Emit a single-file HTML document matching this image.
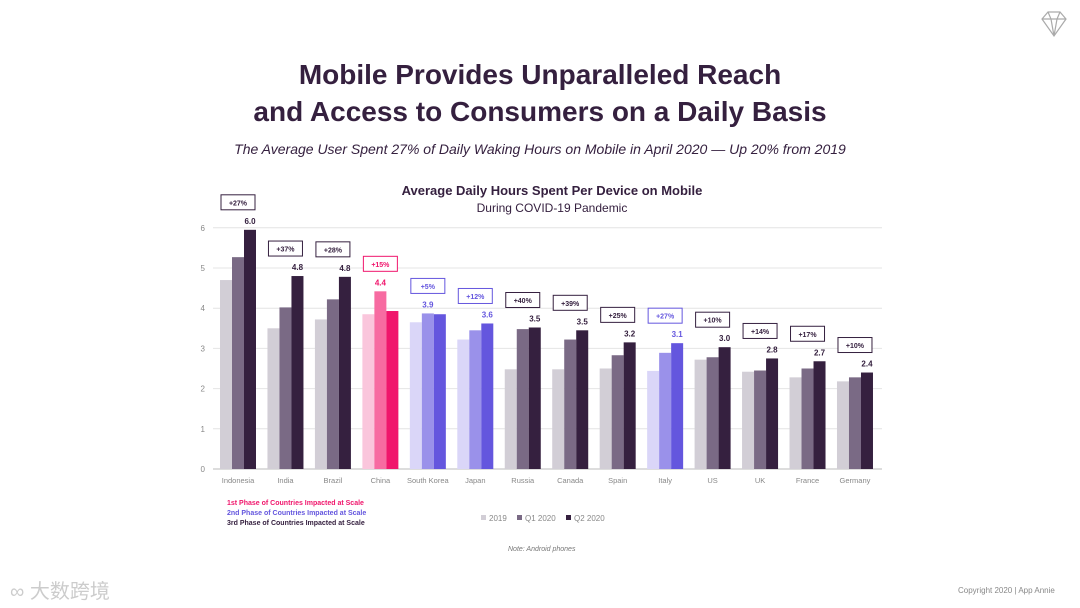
<!DOCTYPE html>
<html><head><meta charset="utf-8"><style>
body{margin:0;width:1080px;height:608px;background:#fff;font-family:"Liberation Sans",sans-serif;overflow:hidden;position:relative}
.t{position:absolute;left:0;width:1080px;text-align:center}
</style></head><body>
<div class="t" style="top:56px;font-size:28px;font-weight:bold;color:#35203f;line-height:37px">Mobile Provides Unparalleled Reach<br>and Access to Consumers on a Daily Basis</div>
<div class="t" style="top:141px;font-size:14px;font-style:italic;color:#35203f">The Average User Spent 27% of Daily Waking Hours on Mobile in April 2020 — Up 20% from 2019</div>
<svg style="position:absolute;left:1038px;top:10px" width="32" height="28" viewBox="0 0 32 28"><path d="M4 9 L10 2 H22 L28 9 L16 26 Z M4 9 H28 M10 2 L13 9 L16 26 L19 9 L22 2" fill="none" stroke="#aaa" stroke-width="1.2"/></svg>
<svg id="c" width="1080" height="608" style="position:absolute;left:0;top:0"></svg>
<div style="position:absolute;left:508px;top:546px;font-size:7px;font-style:italic;color:#777">Note: Android phones</div>
<div style="position:absolute;left:10px;top:575px;font-size:20px;color:#ccc;font-family:'Liberation Sans','Noto Sans CJK SC',sans-serif">∞ 大数跨境</div>
<div style="position:absolute;left:958px;top:586px;font-size:8px;color:#888">Copyright 2020 | App Annie</div>
<script>
const categories=["Indonesia","India","Brazil","China","South Korea","Japan","Russia","Canada","Spain","Italy","US","UK","France","Germany"];
const v2019=[4.7,3.5,3.72,3.85,3.65,3.22,2.48,2.48,2.5,2.44,2.72,2.42,2.28,2.18];
const vQ1=[5.27,4.02,4.22,4.42,3.87,3.45,3.48,3.22,2.83,2.89,2.78,2.45,2.5,2.28];
const vQ2=[5.95,4.8,4.78,3.93,3.85,3.62,3.52,3.45,3.15,3.13,3.03,2.75,2.68,2.4];
const printed=["6.0","4.8","4.8","4.4","3.9","3.6","3.5","3.5","3.2","3.1","3.0","2.8","2.7","2.4"];
const growth=["+27%","+37%","+28%","+15%","+5%","+12%","+40%","+39%","+25%","+27%","+10%","+14%","+17%","+10%"];
const phase=[3,3,3,1,2,2,3,3,3,2,3,3,3,3];
const yTicks=[0,1,2,3,4,5,6];
const pal={1:["#fac6dc","#f76ba1","#f0166c"],2:["#dad6f8","#9a91ea","#6456de"],3:["#d2ced6","#7a6a85","#35203f"]};
const lab={1:"#f0166c",2:"#6456de",3:"#35203f"};
const svg=document.getElementById('c');const NS="http://www.w3.org/2000/svg";
const y=v=>469-v*40.2, x=i=>238+i*47.46;
function mk(t,a,txt){const e=document.createElementNS(NS,t);for(const k in a)e.setAttribute(k,a[k]);if(txt!=null)e.textContent=txt;svg.appendChild(e);return e;}
let e;
e=mk('text',{x:552,y:195,'text-anchor':'middle','font-size':13,'font-weight':'bold',fill:'#35203f'},'Average Daily Hours Spent Per Device on Mobile');


e=mk('text',{x:552,y:212,'text-anchor':'middle','font-size':12,fill:'#35203f'},'During COVID-19 Pandemic');


yTicks.forEach(t=>{
 e=mk('line',{x1:213,x2:882,y1:y(t),y2:y(t),stroke:t?'#e4e4e4':'#bbb','stroke-width':1});
 
 
 e=mk('text',{x:205,y:y(t)+3,'text-anchor':'end','font-size':8,fill:'#888'},t);
 
 
});
categories.forEach((c,i)=>{
 const cx=x(i),p=pal[phase[i]],vals=[v2019[i],vQ1[i],vQ2[i]];
 vals.forEach((v,j)=>{
  e=mk('rect',{x:cx-18+j*12,y:y(v),width:12,height:v*40.2,fill:p[j]});
  
  
 });
 let mj=vals.indexOf(Math.max(...vals));const top=y(vals[mj]);
 e=mk('text',{x:cx-12+mj*12,y:top-6,'text-anchor':'middle','font-size':8,'font-weight':'bold',fill:lab[phase[i]]},printed[i]);
 
 
 e=mk('rect',{x:cx-17,y:top-35,width:34,height:15,fill:'#fff',stroke:lab[phase[i]],'stroke-width':1});
 
 
 e=mk('text',{x:cx,y:top-24.5,'text-anchor':'middle','font-size':7,'font-weight':'bold',fill:lab[phase[i]]},growth[i]);
 
 
 e=mk('text',{x:cx,y:483,'text-anchor':'middle','font-size':7.5,fill:'#888'},c);
 
 
});
[["1st Phase of Countries Impacted at Scale",'#f0166c',505],["2nd Phase of Countries Impacted at Scale",'#6456de',515],["3rd Phase of Countries Impacted at Scale",'#35203f',525]].forEach(l=>{
 e=mk('text',{x:227,y:l[2],'font-size':7,'font-weight':'bold',fill:l[1]},l[0]);
 
 
});
[["2019",'#d2ced6',481],["Q1 2020",'#7a6a85',517],["Q2 2020",'#35203f',566]].forEach(l=>{
 e=mk('rect',{x:l[2],y:515,width:5,height:5,fill:l[1]});
 
 
 e=mk('text',{x:l[2]+8,y:521,'font-size':8,fill:'#888'},l[0]);
 
 
});
</script>
</body></html>
